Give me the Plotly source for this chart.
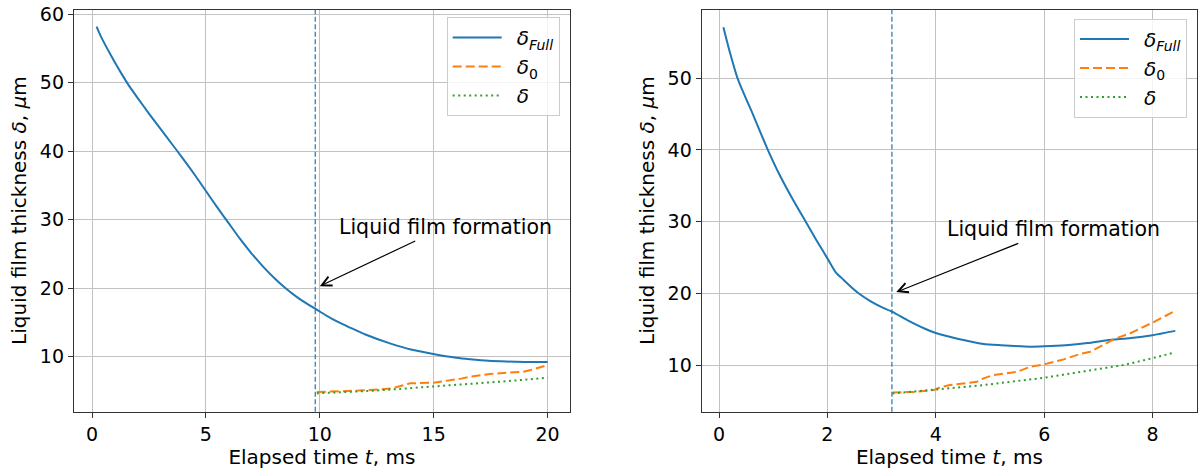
import plotly.graph_objects as go

# ---------------- left panel: t up to 20 ms ----------------
t_full_a = [0.2, 0.4, 0.7, 1.0, 1.3, 1.6, 2.0, 2.5, 3.0, 3.5, 4.0, 4.5, 5.0, 5.5, 6.0,
            6.5, 7.0, 7.5, 8.0, 8.5, 9.0, 9.5, 10.0, 10.5, 11.0, 11.62, 12.0, 13.08,
            14.0, 14.98, 16.0, 16.59, 17.4, 18.2, 19.0, 20.0]
d_full_a = [58.2, 56.7, 54.8, 53.0, 51.3, 49.7, 47.8, 45.5, 43.3, 41.1, 38.9, 36.6,
            34.2, 31.8, 29.5, 27.2, 25.1, 23.2, 21.5, 20.0, 18.7, 17.6, 16.6, 15.6,
            14.75, 13.8, 13.25, 11.95, 11.05, 10.4, 9.85, 9.63, 9.4, 9.29, 9.23, 9.24]

t_d0_a = [9.87, 10.5, 11.19, 11.7, 12.2, 12.7, 13.09, 13.3, 13.53, 13.97, 14.99,
          15.72, 16.2, 16.6, 17.48, 18.2, 18.94, 19.38, 20.0]
d0_a = [4.85, 4.9, 4.95, 5.05, 5.15, 5.2, 5.34, 5.5, 5.73, 6.12, 6.2,
        6.5, 6.8, 7.08, 7.48, 7.67, 7.81, 8.16, 8.79]

t_d_a = [9.87, 11.0, 12.34, 13.5, 15.0, 16.0, 17.48, 18.5, 20.0]
d_a = [4.66, 4.8, 5.04, 5.3, 5.63, 5.9, 6.2, 6.5, 6.94]

t_form_a = 9.8

# ---------------- right panel: t up to 8.4 ms ----------------
t_full_b = [0.08, 0.2, 0.34, 0.42, 0.6, 0.75, 0.89, 1.1, 1.37, 1.6, 1.8, 2.0, 2.15,
            2.3, 2.5, 2.6, 2.8, 3.0, 3.2, 3.5, 3.8, 4.0, 4.4, 4.88, 5.2, 5.74, 6.0,
            6.4, 6.8, 7.16, 7.6, 8.0, 8.42]
d_full_b = [57.1, 53.6, 50.0, 48.5, 45.4, 42.7, 40.2, 36.8, 33.0, 30.0, 27.4, 24.9,
            23.0, 21.9, 20.5, 19.9, 18.9, 18.1, 17.45, 16.2, 15.1, 14.5, 13.7, 12.97,
            12.8, 12.6, 12.65, 12.8, 13.1, 13.5, 13.8, 14.2, 14.8]

t_d0_b = [3.2, 3.6, 3.96, 4.08, 4.26, 4.5, 4.76, 4.88, 5.06, 5.5, 5.74, 6.0, 6.36,
          6.66, 6.85, 7.09, 7.28, 7.59, 8.0, 8.39]
d0_b = [6.23, 6.3, 6.55, 6.93, 7.25, 7.5, 7.71, 8.18, 8.64, 9.1, 9.8, 10.13, 10.83,
        11.57, 11.9, 12.84, 13.63, 14.47, 15.95, 17.49]

t_d_b = [3.2, 4.0, 4.88, 6.0, 6.72, 7.46, 8.0, 8.39]
d_b = [6.09, 6.65, 7.25, 8.27, 9.1, 10.04, 11.0, 11.75]

t_form_b = 3.19

# ---------------- styling ----------------
BLUE, ORANGE, GREEN = "#1f77b4", "#ff7f0e", "#2ca02c"
FONT = "DejaVu Sans"
GAP = "\u2002"  # en space between legend sample and label
names = [GAP + "<i>δ</i><sub><i>Full</i></sub>", GAP + "<i>δ</i><sub>0</sub>", GAP + "<i>δ</i>"]

fig = go.Figure()


def add_panel(xa, ya, leg, tf, df, t0, d0, t1, d1):
    fig.add_trace(go.Scatter(x=tf, y=df, mode="lines", name=names[0],
                             line=dict(color=BLUE, width=2, shape="spline", smoothing=0.6),
                             xaxis=xa, yaxis=ya, legend=leg))
    fig.add_trace(go.Scatter(x=t0, y=d0, mode="lines", name=names[1],
                             line=dict(color=ORANGE, width=2, dash="9px,4px"),
                             xaxis=xa, yaxis=ya, legend=leg))
    fig.add_trace(go.Scatter(x=t1, y=d1, mode="lines", name=names[2],
                             line=dict(color=GREEN, width=2, dash="2px,3.5px"),
                             xaxis=xa, yaxis=ya, legend=leg))


add_panel("x", "y", "legend", t_full_a, d_full_a, t_d0_a, d0_a, t_d_a, d_a)
add_panel("x2", "y2", "legend2", t_full_b, d_full_b, t_d0_b, d0_b, t_d_b, d_b)

# film formation marker lines
for xr, tv in (("x", t_form_a), ("x2", t_form_b)):
    fig.add_shape(type="line", xref=xr, yref=xr.replace("x", "y") + " domain",
                  x0=tv, x1=tv, y0=0, y1=1,
                  line=dict(color=BLUE, width=1.2, dash="5px,2.5px"))

axis_common = dict(
    showline=True, mirror=True, linecolor="#333333", linewidth=1.3,
    ticks="outside", ticklen=5, tickwidth=1.3, tickcolor="#333333",
    showgrid=True, gridcolor="#c2c2c2", gridwidth=1.2, zeroline=False,
    tickfont=dict(family=FONT, size=19, color="black"),
    title_font=dict(family=FONT, size=20, color="black"),
    automargin=False,
)
ydom = [1 - 411.7 / 474, 1 - 9.5 / 474]
legend_common = dict(xanchor="left", yanchor="top",
                     bgcolor="rgba(255,255,255,0.8)", bordercolor="#cccccc", borderwidth=1,
                     font=dict(family=FONT, size=20, color="black"), itemwidth=49)

fig.update_layout(
    width=1198, height=474,
    margin=dict(l=0, r=0, t=0, b=0),
    paper_bgcolor="white", plot_bgcolor="white",
    font=dict(family=FONT, size=20, color="black"),
    xaxis=dict(domain=[74 / 1198, 569.7 / 1198], range=[-0.79, 20.97],
               tickvals=[0, 5, 10, 15, 20], anchor="y",
               title=dict(text="Elapsed time <i>t</i>, ms", standoff=6), **axis_common),
    yaxis=dict(domain=ydom, range=[1.97, 60.7], tickvals=[10, 20, 30, 40, 50, 60],
               anchor="x",
               title=dict(text="Liquid film thickness <i>δ</i>, <i>μ</i>m", standoff=7),
               **axis_common),
    xaxis2=dict(domain=[701.7 / 1198, 1197 / 1198], range=[-0.32, 8.82],
                tickvals=[0, 2, 4, 6, 8], anchor="y2",
                title=dict(text="Elapsed time <i>t</i>, ms", standoff=6), **axis_common),
    yaxis2=dict(domain=ydom, range=[3.54, 59.57], tickvals=[10, 20, 30, 40, 50],
                anchor="x2",
                title=dict(text="Liquid film thickness <i>δ</i>, <i>μ</i>m", standoff=7),
                **axis_common),
    legend=dict(x=446.7 / 1198, y=1 - 17 / 474, **legend_common),
    legend2=dict(x=1074 / 1198, y=1 - 18.5 / 474, **legend_common),
)

# "Liquid film formation" labels with arrows pointing at the onset
for xr, yr, txt_xy, tip in (
    ("x", "y", (15.52, 29.0), (10.0, 20.3)),
    ("x2", "y2", (6.18, 28.97), (3.27, 20.2)),
):
    fig.add_annotation(x=tip[0], y=tip[1], ax=txt_xy[0], ay=txt_xy[1],
                       xref=xr, yref=yr, axref=xr, ayref=yr,
                       text="Liquid film formation",
                       font=dict(family=FONT, size=20.5, color="black"),
                       showarrow=True, arrowhead=5, arrowsize=1.6,
                       arrowwidth=1.2, arrowcolor="black", standoff=0, startstandoff=2)

fig.write_html("out.html")
